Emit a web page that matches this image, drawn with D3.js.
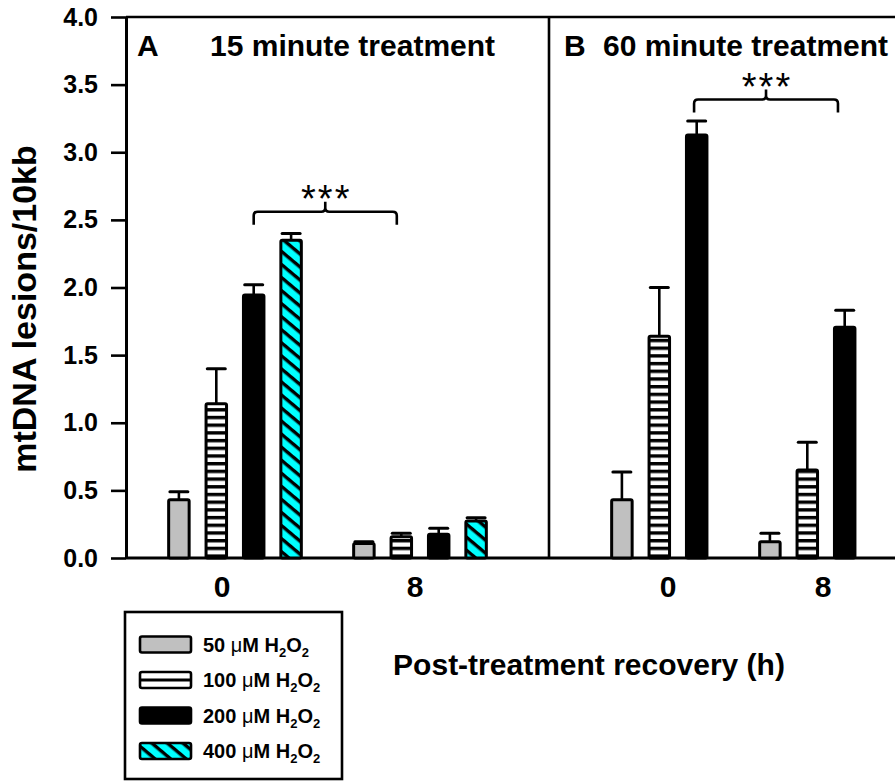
<!DOCTYPE html>
<html>
<head>
<meta charset="utf-8">
<script src="https://cdn.jsdelivr.net/npm/d3@7"></script>
<style>
  body { margin: 0; background: #fff; }
  text { font-family: "Liberation Sans", Arial, sans-serif; fill: #000; }
</style>
</head>
<body>
<svg id="chart" width="895" height="782"></svg>
<script>
// ---- data ----------------------------------------------------------------
const seriesKeys = ["50", "100", "200", "400"];          // µM H2O2
const recoveryTimes = ["0", "8"];                        // hours after treatment
const yTicks = [0, 0.5, 1.0, 1.5, 2.0, 2.5, 3.0, 3.5, 4.0];

// Panel A: 15 minute treatment (mean lesions/10kb and SEM)
const meanA0 = [0.43, 1.14, 1.945, 2.35];
const semA0  = [0.06, 0.26, 0.075, 0.05];
const meanA8 = [0.108, 0.157, 0.175, 0.274];
const semA8  = [0.012, 0.026, 0.045, 0.024];

// Panel B: 60 minute treatment (400 µM not included)
const meanB0 = [0.43, 1.64, 3.128];
const semB0  = [0.205, 0.36, 0.103];
const meanB8 = [0.121, 0.651, 1.706];
const semB8  = [0.062, 0.204, 0.125];

// significance brackets: ends given as [recovery time, bar slot], level in lesions/10kb
const bracketA = { from: ["0", 2.0], to: ["8", 0.88], level: 2.56 };
const bracketB = { from: ["0", 1.93], to: ["8", 1.82], level: 3.39 };

// ---- layout --------------------------------------------------------------
const svg = d3.select("#chart");
const W = 895;
const axisX = 126, dividerX = 549;
const y = d3.scaleLinear().domain([0, 4]).range([558, 17]);

const panels = [
  { letter: "A", title: "15 minute treatment", letterX: 137, titleX: 210,
    barRange: [235, 420], labelRange: [222, 415],
    rows: { "0": [meanA0, semA0], "8": [meanA8, semA8] }, bracket: bracketA },
  { letter: "B", title: "60 minute treatment", letterX: 564, titleX: 603,
    barRange: [678, 826], labelRange: [668, 823],
    rows: { "0": [meanB0, semB0], "8": [meanB8, semB8] }, bracket: bracketB }
];

// bar slots inside each recovery-time group
const slot = d3.scaleBand().domain(seriesKeys)
  .range([-74.8, 74.8]).paddingInner(0.372).paddingOuter(0.186);
const slotStep = slot.step();

// ---- fill patterns --------------------------------------------------------
const defs = svg.append("defs");
const hp = defs.append("pattern").attr("id", "hstripes")
  .attr("patternUnits", "userSpaceOnUse").attr("width", 8).attr("height", 7.7);
hp.append("rect").attr("width", 8).attr("height", 7.7).attr("fill", "#fff");
hp.append("rect").attr("y", 0).attr("width", 8).attr("height", 3.4).attr("fill", "#000");

const dp = defs.append("pattern").attr("id", "dhatch")
  .attr("patternUnits", "userSpaceOnUse").attr("width", 10).attr("height", 10)
  .attr("patternTransform", "rotate(40)");
dp.append("rect").attr("width", 10).attr("height", 10).attr("fill", "#00ffff");
dp.append("rect").attr("width", 10).attr("height", 3.4).attr("fill", "#000");

const fills = { "50": "#c0c0c0", "100": "url(#hstripes)", "200": "#000", "400": "url(#dhatch)" };

// ---- frame ---------------------------------------------------------------
const yAxis = d3.axisLeft(y).tickValues(yTicks).tickFormat(d3.format(".1f"))
  .tickSize(15).tickSizeOuter(0).tickPadding(13);
const gy = svg.append("g").attr("transform", `translate(${axisX},0)`).call(yAxis);
gy.select(".domain").attr("stroke", "#000").attr("stroke-width", 3);
gy.selectAll(".tick line").attr("stroke", "#000").attr("stroke-width", 2.6);
gy.selectAll(".tick text").attr("font-size", 25).attr("font-weight", "bold")
  .attr("font-family", "'Liberation Sans', Arial, sans-serif").attr("fill", "#000");

svg.append("line").attr("x1", axisX).attr("x2", W).attr("y1", y(4)).attr("y2", y(4))
  .attr("stroke", "#000").attr("stroke-width", 2.6);
svg.append("line").attr("x1", axisX).attr("x2", W).attr("y1", y(0)).attr("y2", y(0))
  .attr("stroke", "#000").attr("stroke-width", 3);
svg.append("line").attr("x1", dividerX).attr("x2", dividerX).attr("y1", y(4)).attr("y2", y(0))
  .attr("stroke", "#000").attr("stroke-width", 2.6);

// ---- panels --------------------------------------------------------------
panels.forEach(p => {
  const gx = d3.scalePoint().domain(recoveryTimes).range(p.barRange);
  const lx = d3.scalePoint().domain(recoveryTimes).range(p.labelRange);

  const bars = [];
  recoveryTimes.forEach(t => {
    const [means, sems] = p.rows[t];
    means.forEach((m, i) => bars.push({ t, key: seriesKeys[i], mean: m, sem: sems[i] }));
  });

  const g = svg.append("g");
  const bw = slot.bandwidth();
  const cx = d => gx(d.t) + slot(d.key) + bw / 2;

  // error bars (upper only)
  g.selectAll("line.err").data(bars).join("line").attr("class", "err")
    .attr("x1", cx).attr("x2", cx)
    .attr("y1", d => y(d.mean)).attr("y2", d => y(d.mean + d.sem))
    .attr("stroke", "#000").attr("stroke-width", 2.6);
  g.selectAll("line.cap").data(bars).join("line").attr("class", "cap")
    .attr("x1", d => cx(d) - 9).attr("x2", d => cx(d) + 9)
    .attr("y1", d => y(d.mean + d.sem)).attr("y2", d => y(d.mean + d.sem))
    .attr("stroke", "#000").attr("stroke-width", 3).attr("stroke-linecap", "round");

  g.selectAll("rect.bar").data(bars).join("rect").attr("class", "bar")
    .attr("x", d => gx(d.t) + slot(d.key) + 1.5)
    .attr("width", bw - 3)
    .attr("y", d => y(d.mean))
    .attr("height", d => y(0) - y(d.mean))
    .attr("fill", d => fills[d.key])
    .attr("stroke", "#000").attr("stroke-width", 3).attr("rx", 1.5);

  // recovery time labels
  svg.append("g").selectAll("text").data(recoveryTimes).join("text")
    .attr("x", d => lx(d)).attr("y", 597)
    .attr("text-anchor", "middle").attr("font-size", 30).attr("font-weight", "bold")
    .text(d => d);

  // panel letter and title
  svg.append("text").attr("x", p.letterX).attr("y", 56)
    .attr("font-size", 30).attr("font-weight", "bold").text(p.letter);
  svg.append("text").attr("x", p.titleX).attr("y", 56)
    .attr("font-size", 30).attr("font-weight", "bold").text(p.title);

  // significance bracket
  const b = p.bracket;
  const bx = e => gx(e[0]) + slot(seriesKeys[0]) + bw / 2 + e[1] * slotStep;
  const x1 = bx(b.from), x2 = bx(b.to), xc = (x1 + x2) / 2, yl = y(b.level);
  const r = 4;
  const path = `M${x1},${yl + 13} V${yl + r} Q${x1},${yl} ${x1 + r},${yl} H${xc - r} Q${xc},${yl} ${xc},${yl - r} V${yl - 10}` +
               ` M${xc},${yl - r} Q${xc},${yl} ${xc + r},${yl} H${x2 - r} Q${x2},${yl} ${x2},${yl + r} V${yl + 13}`;
  svg.append("path").attr("d", path).attr("fill", "none")
    .attr("stroke", "#000").attr("stroke-width", 2.6);
  svg.append("text").attr("x", xc + 1).attr("y", yl)
    .attr("text-anchor", "middle").attr("font-size", 38).attr("letter-spacing", 2)
    .text("***");
});

// ---- axis titles ---------------------------------------------------------
svg.append("text").attr("transform", "translate(36,309) rotate(-90)")
  .attr("text-anchor", "middle").attr("font-size", 34).attr("font-weight", "bold")
  .text("mtDNA lesions/10kb");
svg.append("text").attr("x", 589).attr("y", 675)
  .attr("text-anchor", "middle").attr("font-size", 30).attr("font-weight", "bold")
  .text("Post-treatment recovery (h)");

// ---- legend --------------------------------------------------------------
const legendLabels = ["50", "100", "200", "400"];
const lg = svg.append("g");
lg.append("rect").attr("x", 125).attr("y", 612).attr("width", 217).attr("height", 167)
  .attr("fill", "#fff").attr("stroke", "#000").attr("stroke-width", 2.6);
const rowY = d3.scalePoint().domain(legendLabels).range([644.5, 751]);

legendLabels.forEach(k => {
  const cy = rowY(k);
  const sw = lg.append("g");
  sw.append("rect").attr("x", 140).attr("y", cy - 8).attr("width", 51).attr("height", 16)
    .attr("rx", 2).attr("fill", k === "100" ? "#fff" : fills[k]);
  if (k === "100") {
    sw.append("line").attr("x1", 140).attr("x2", 191).attr("y1", cy).attr("y2", cy)
      .attr("stroke", "#000").attr("stroke-width", 3);
  }
  sw.append("rect").attr("x", 140).attr("y", cy - 8).attr("width", 51).attr("height", 16)
    .attr("rx", 2).attr("fill", "none").attr("stroke", "#000").attr("stroke-width", 2.6);

  const t = lg.append("text").attr("x", 203).attr("y", cy + 7)
    .attr("font-size", 20).attr("font-weight", "bold");
  t.append("tspan").text(k + " ");
  t.append("tspan").attr("font-weight", "normal").text("μ");
  t.append("tspan").text("M H");
  t.append("tspan").attr("font-size", 13).attr("dy", 5).text("2");
  t.append("tspan").attr("dy", -5).text("O");
  t.append("tspan").attr("font-size", 13).attr("dy", 5).text("2");
});
</script>
</body>
</html>
